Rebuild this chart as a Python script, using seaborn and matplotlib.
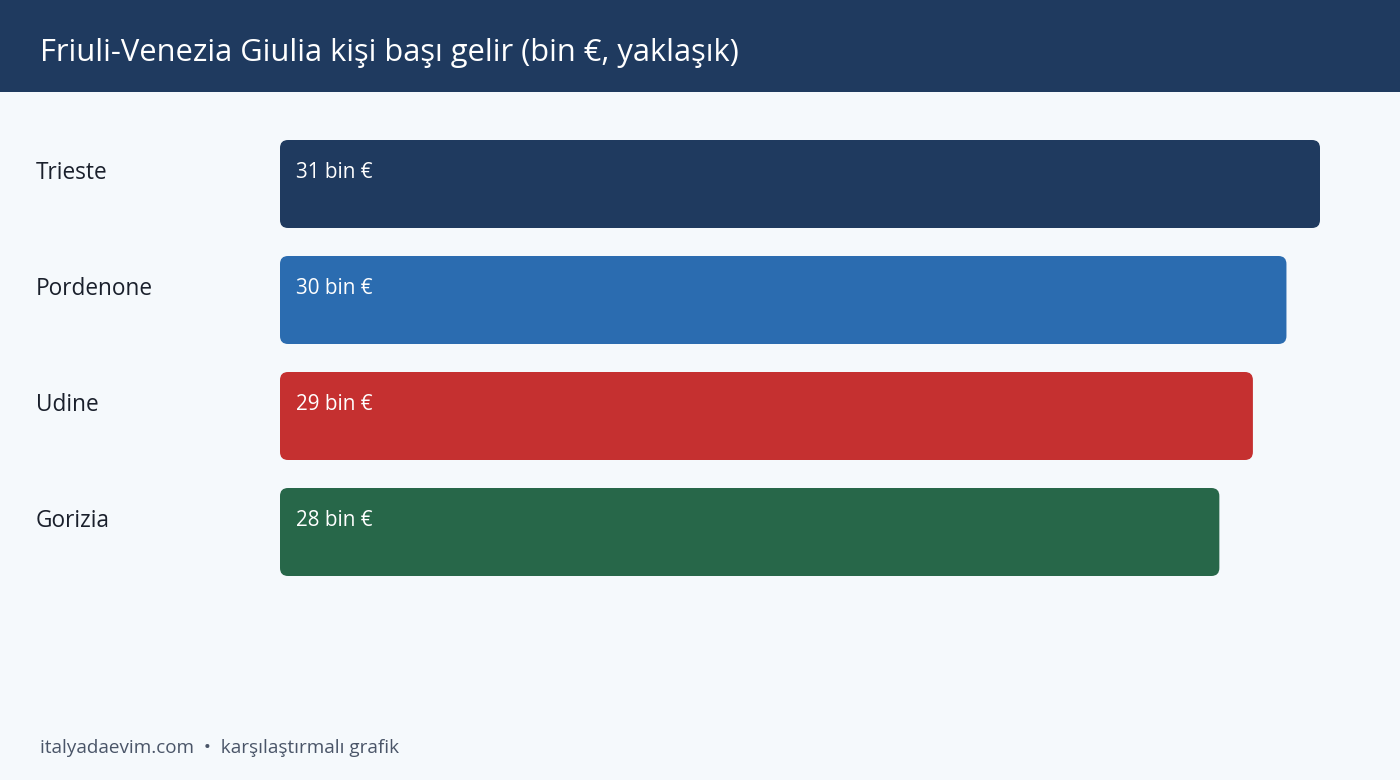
import matplotlib
matplotlib.use('Agg')
import matplotlib.pyplot as plt
from matplotlib.patches import FancyBboxPatch, Rectangle
import seaborn as sns
import pandas as pd

cities = ['Trieste', 'Pordenone', 'Udine', 'Gorizia']
income = [31, 30, 29, 28]
bar_colors = ['#1f3a5f', '#2b6cb0', '#c53030', '#276749']
value_labels = ['31 bin €', '30 bin €', '29 bin €', '28 bin €']

title = 'Friuli-Venezia Giulia kişi başı gelir (bin €, yaklaşık)'
footer = 'italyadaevim.com  •  karşılaştırmalı grafik'

BG = '#f5f9fc'
NAVY = '#1f3a5f'

sns.set_theme(style='white')
plt.rcParams['font.family'] = ['Open Sans', 'DejaVu Sans']

W, H = 1400, 780
fig = plt.figure(figsize=(14, 7.8), dpi=100)
fig.patch.set_facecolor(BG)

# header band
fig.patches.append(Rectangle((0, 1 - 92 / H), 1, 92 / H, transform=fig.transFigure,
                             facecolor=NAVY, edgecolor='none', zorder=0))
fig.text(40 / W, 1 - 53 / H, title, color='white', fontsize=22.2, va='center', ha='left')

# plot area: x 280..1320 px, rows of 116 px starting at 126 px
ax_left, ax_right = 280, 1320
ax_top, ax_bot = 126, 126 + 4 * 116
ax = fig.add_axes([ax_left / W, 1 - ax_bot / H, (ax_right - ax_left) / W, (ax_bot - ax_top) / H])
ax.set_facecolor('none')

df = pd.DataFrame({'city': cities, 'income': income})
bar_w = 88 / 116
sns.barplot(data=df, y='city', x='income', hue='city', palette=bar_colors,
            orient='h', width=bar_w, saturation=1, legend=False, ax=ax)
ax.set_xlim(0, max(income))
ax.set_ylim(len(cities) - 0.5, -0.5)

px_x = (ax_right - ax_left) / max(income)
px_y = 116
r = 8 / px_x
for patch in list(ax.patches):
    x0, y0 = patch.get_x(), patch.get_y()
    w, h = patch.get_width(), patch.get_height()
    fc = patch.get_facecolor()
    patch.set_visible(False)
    ax.add_patch(FancyBboxPatch((x0, y0), w, h,
                                boxstyle=f'round,pad=0,rounding_size={r}',
                                mutation_aspect=px_x / px_y,
                                facecolor=fc, edgecolor='none', zorder=2))

for i, (c, lab) in enumerate(zip(cities, value_labels)):
    ty = i - bar_w / 2 + 33 / px_y
    ax.text(16 / px_x, ty, lab, color='white', fontsize=14.9, va='center', ha='left', zorder=3)
    ax.text((36 - ax_left) / px_x, ty, c, color='#1a202c', fontsize=16.3,
            va='center', ha='left', clip_on=False)

ax.set_xlabel('')
ax.set_ylabel('')
ax.set_xticks([])
ax.set_yticks([])
sns.despine(ax=ax, left=True, bottom=True)

fig.text(40 / W, 1 - 748 / H, footer, color='#4a5568', fontsize=13.6, va='center', ha='left')

fig.savefig('out.png', dpi=100, facecolor=BG)
